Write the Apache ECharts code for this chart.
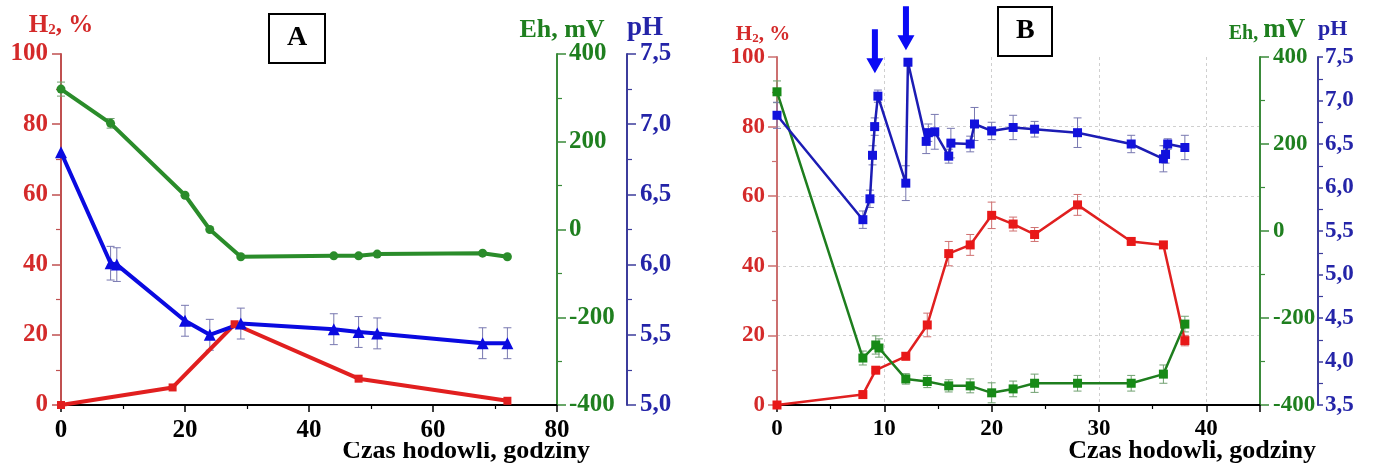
<!DOCTYPE html>
<html>
<head>
<meta charset="utf-8">
<script src="https://cdn.jsdelivr.net/npm/echarts@6/dist/echarts.min.js"></script>
<style>
html,body{margin:0;padding:0;background:#fff;}
#c{width:1375px;height:471px;}
</style>
</head>
<body>
<div id="c"></div>
<script>
// ---------------- DATA ----------------
// Panel A
const hoursA_H2 = [0, 18, 28, 48, 72];
const h2A = [0, 5, 23, 7.5, 1.2];
const hoursA_Eh = [0, 8, 20, 24, 29, 44, 48, 51, 68, 72];
const ehA = [320, 242, 78, 0, -62, -60, -60, -56, -54, -62];
const ehErrA = [16, 11, 0, 0, 0, 0, 0, 0, 0, 0];
const hoursA_pH = [0, 8, 9, 20, 24, 29, 44, 48, 51, 68, 72];
const phA = [6.8, 6.01, 6.0, 5.6, 5.5, 5.58, 5.54, 5.52, 5.51, 5.44, 5.44];
const phErrA = [0, 0.12, 0.12, 0.11, 0.11, 0.11, 0.11, 0.11, 0.11, 0.11, 0.11];

// Panel B
const hoursB_H2 = [0, 8, 9.2, 12, 14, 16, 18, 20, 22, 24, 28, 33, 36, 38];
const h2B = [0, 3, 10, 14, 23, 43.5, 46, 54.5, 52, 49, 57.5, 47, 46, 18.5];
const h2ErrB = [0, 0.5, 0.5, 1, 3.4, 3.5, 3, 3.8, 2, 2, 3, 1, 1, 1.5];
const hoursB_Eh = [0, 8, 9.2, 9.5, 12, 14, 16, 18, 20, 22, 24, 28, 33, 36, 38];
const ehB = [320, -292, -262, -269, -340, -346, -356, -356, -372, -363, -350, -350, -350, -329, -214];
const ehErrB = [25, 16, 21, 21, 12, 14, 14, 16, 23, 18, 21, 18, 18, 21, 18];
const hoursB_pH = [0, 8, 8.66, 8.9, 9.1, 9.4, 12, 12.2, 13.9, 14.1, 14.7, 16, 16.2, 18, 18.4, 20, 22, 24, 28, 33, 36, 36.2, 36.4, 38];
const phB = [6.83, 5.63, 5.87, 6.37, 6.7, 7.05, 6.05, 7.44, 6.53, 6.63, 6.64, 6.36, 6.51, 6.5, 6.73, 6.65, 6.69, 6.67, 6.63, 6.5, 6.33, 6.38, 6.5, 6.46];
const phErrB = [0.15, 0.1, 0.1, 0.11, 0.1, 0.07, 0.2, 0.04, 0.14, 0.1, 0.2, 0.08, 0.17, 0.09, 0.19, 0.1, 0.14, 0.09, 0.17, 0.1, 0.15, 0.1, 0.06, 0.14];
// arrows point at these pH peaks
const arrowPeaksB = [[9.4, 7.05], [12.2, 7.44]];

// Tick labels
const phTickValsA = [5.0, 5.5, 6.0, 6.5, 7.0, 7.5];
const phTickLabelsA = ['5,0', '5,5', '6,0', '6,5', '7,0', '7,5'];
const phTickValsB = [3.5, 4.0, 4.5, 5.0, 5.5, 6.0, 6.5, 7.0, 7.5];
const phTickLabelsB = ['3,5', '4,0', '4,5', '5,0', '5,5', '6,0', '6,5', '7,0', '7,5'];

// ---------------- STYLE ----------------
const FF = '"Liberation Serif", "Times New Roman", serif';
const RED = '#d42a2a', GREEN = '#1f7f1f', BLUE = '#2424a8';

function lookup(vals, labels) {
  return function (v) {
    for (let i = 0; i < vals.length; i++) if (Math.abs(vals[i] - v) < 1e-6) return labels[i];
    return '';
  };
}
function pairs(xs, ys) { return xs.map((x, i) => [x, ys[i]]); }

function errSeries(xs, ys, errs, xi, yi, color) {
  const data = [];
  xs.forEach((x, i) => { if (errs[i] > 0) data.push([x, ys[i] - errs[i], ys[i] + errs[i]]); });
  return {
    type: 'custom', xAxisIndex: xi, yAxisIndex: yi, silent: true, z: 1,
    data: data, encode: { x: 0, y: [1, 2] },
    renderItem: function (params, api) {
      const lo = api.coord([api.value(0), api.value(1)]);
      const hi = api.coord([api.value(0), api.value(2)]);
      const w = 4;
      const st = { stroke: color, lineWidth: 1 };
      return {
        type: 'group', children: [
          { type: 'line', shape: { x1: lo[0], y1: lo[1], x2: hi[0], y2: hi[1] }, style: st },
          { type: 'line', shape: { x1: lo[0] - w, y1: lo[1], x2: lo[0] + w, y2: lo[1] }, style: st },
          { type: 'line', shape: { x1: hi[0] - w, y1: hi[1], x2: hi[0] + w, y2: hi[1] }, style: st }
        ]
      };
    }
  };
}

function yAx(o) {
  const fs = o.fs;
  return {
    type: 'value', gridIndex: o.grid, position: o.pos, offset: o.offset || 0,
    min: o.min, max: o.max, interval: o.interval,
    axisLine: { show: true, lineStyle: { color: o.lineColor, width: 2 } },
    axisTick: { show: true, length: o.tickLen || 9, lineStyle: { color: o.lineColor, width: 1.5 } },
    minorTick: { show: true, splitNumber: 2, length: 5, lineStyle: { color: o.lineColor, width: 1.2 } },
    axisLabel: { color: o.labelColor, fontSize: fs, fontWeight: 'bold', fontFamily: FF, margin: o.margin || 13, formatter: o.formatter },
    splitLine: o.split ? { show: true, showMaxLine: false, lineStyle: { color: '#cfcfcf', type: [3, 3], width: 1 } } : { show: false },
    name: o.name, nameLocation: 'end', nameGap: o.nameGap, nameMoveOverlap: false,
    nameTextStyle: { align: o.nameAlign || 'center', verticalAlign: 'bottom', padding: o.namePad || 0, rich: o.rich }
  };
}

function xName(gap) {
  return {
    name: 'Czas hodowli, godziny', nameLocation: 'end', nameGap: gap, nameMoveOverlap: false,
    nameTextStyle: { color: '#000', fontSize: 26, fontWeight: 'bold', fontFamily: FF, align: 'right', verticalAlign: 'top', padding: [33, 0, 0, 0] }
  };
}

const arrowPath = 'path://M5.5,0 L11.5,0 L11.5,29 L17,29 L8.5,44 L0,29 L5.5,29 Z';

const option = {
  backgroundColor: '#fff',
  animation: false,
  title: [
    { text: 'A', left: 269, top: 14, borderColor: '#000', borderWidth: 2, padding: [10, 18, 11, 18],
      textStyle: { fontSize: 28, fontWeight: 'bold', fontFamily: FF, color: '#000' } },
    { text: 'B', left: 998, top: 7, borderColor: '#000', borderWidth: 2, padding: [10, 18, 11, 18],
      textStyle: { fontSize: 28, fontWeight: 'bold', fontFamily: FF, color: '#000' } }
  ],
  grid: [
    { left: 61, right: 818, top: 54, bottom: 66, outerBoundsMode: 'none', containLabel: false },
    { left: 777, right: 115, top: 57, bottom: 66, outerBoundsMode: 'none', containLabel: false }
  ],
  xAxis: [
    Object.assign({
      type: 'value', gridIndex: 0, min: 0, max: 80, interval: 20,
      axisLine: { lineStyle: { color: '#000', width: 2 } },
      axisTick: { length: 7, lineStyle: { color: '#000', width: 1.5 } },
      minorTick: { show: true, splitNumber: 2, length: 4, lineStyle: { color: '#000', width: 1.2 } },
      axisLabel: { color: '#000', fontSize: 25, fontWeight: 'bold', fontFamily: FF, margin: 13 },
      splitLine: { show: false }
    }, xName(33)),
    Object.assign({
      type: 'value', gridIndex: 1, min: 0, max: 45, interval: 10,
      axisLine: { lineStyle: { color: '#000', width: 2 } },
      axisTick: { length: 7, lineStyle: { color: '#000', width: 1.5 } },
      minorTick: { show: true, splitNumber: 2, length: 4, lineStyle: { color: '#000', width: 1.2 } },
      axisLabel: { color: '#000', fontSize: 23, fontWeight: 'bold', fontFamily: FF, margin: 13, showMaxLabel: false },
      splitLine: { show: true, showMinLine: false, showMaxLine: false, lineStyle: { color: '#cfcfcf', type: [3, 3], width: 1 } }
    }, xName(56))
  ],
  yAxis: [
    yAx({ grid: 0, pos: 'left', min: 0, max: 100, interval: 20, lineColor: '#c05050', labelColor: RED, fs: 25, margin: 13,
      name: '{t|H}{s|2}{t|, %}', nameGap: 16,
      rich: { t: { fontSize: 25, fontWeight: 'bold', fontFamily: FF, color: RED, lineHeight: 28, verticalAlign: 'bottom' },
              s: { fontSize: 15, fontWeight: 'bold', fontFamily: FF, color: RED, lineHeight: 6, verticalAlign: 'bottom' } } }),
    yAx({ grid: 0, pos: 'right', min: -400, max: 400, interval: 200, lineColor: '#3a8a3a', labelColor: GREEN, fs: 25, margin: 12,
      name: '{t|Eh, mV}', nameGap: 11, namePad: [0, 0, 0, 10],
      rich: { t: { fontSize: 26, fontWeight: 'bold', fontFamily: FF, color: GREEN, lineHeight: 26, verticalAlign: 'bottom' } } }),
    yAx({ grid: 0, pos: 'right', offset: 70, min: 5, max: 7.5, interval: 0.5, lineColor: '#3c3c9c', labelColor: BLUE, fs: 25, margin: 13,
      formatter: lookup(phTickValsA, phTickLabelsA),
      name: '{t|pH}', nameGap: 12, nameAlign: 'left',
      rich: { t: { fontSize: 27, fontWeight: 'bold', fontFamily: FF, color: BLUE, lineHeight: 27, verticalAlign: 'bottom' } } }),
    yAx({ grid: 1, pos: 'left', min: 0, max: 100, interval: 20, lineColor: '#cc7070', labelColor: RED, fs: 23, margin: 12, split: true,
      name: '{t|H}{s|2}{t|, %}', nameGap: 12, namePad: [0, 28, 0, 0],
      rich: { t: { fontSize: 21, fontWeight: 'bold', fontFamily: FF, color: RED, lineHeight: 23, verticalAlign: 'bottom' },
              s: { fontSize: 13, fontWeight: 'bold', fontFamily: FF, color: RED, lineHeight: 5, verticalAlign: 'bottom' } } }),
    yAx({ grid: 1, pos: 'right', min: -400, max: 400, interval: 200, lineColor: '#3a8a3a', labelColor: GREEN, fs: 23, margin: 13,
      name: '{a|Eh, }{b|mV}', nameGap: 13, namePad: [0, 0, 0, 14],
      rich: { a: { fontSize: 20, fontWeight: 'bold', fontFamily: FF, color: GREEN, lineHeight: 20, verticalAlign: 'bottom' },
              b: { fontSize: 27, fontWeight: 'bold', fontFamily: FF, color: GREEN, lineHeight: 27, verticalAlign: 'bottom' } } }),
    yAx({ grid: 1, pos: 'right', offset: 58, min: 3.5, max: 7.5, interval: 0.5, lineColor: '#3c3c9c', labelColor: BLUE, fs: 23, margin: 7, tickLen: 5,
      formatter: lookup(phTickValsB, phTickLabelsB),
      name: '{t|pH}', nameGap: 17, nameAlign: 'left',
      rich: { t: { fontSize: 22, fontWeight: 'bold', fontFamily: FF, color: BLUE, lineHeight: 22, verticalAlign: 'bottom' } } })
  ],
  graphic: [
    // the reference crops the bottom of panel A's x tick labels
    { type: 'rect', z: 100, shape: { x: 0, y: 437, width: 690, height: 5 }, style: { fill: '#fff' } }
  ],
  series: [
    // ---- Panel A ----
    errSeries(hoursA_Eh, ehA, ehErrA, 0, 1, '#70a070'),
    errSeries(hoursA_pH, phA, phErrA, 0, 2, '#7878b0'),
    { type: 'line', xAxisIndex: 0, yAxisIndex: 0, data: pairs(hoursA_H2, h2A), symbol: 'rect', symbolSize: 8,
      lineStyle: { color: '#e11f1f', width: 4 }, itemStyle: { color: '#e11f1f' } },
    { type: 'line', xAxisIndex: 0, yAxisIndex: 1, data: pairs(hoursA_Eh, ehA), symbol: 'circle', symbolSize: 9,
      lineStyle: { color: '#2a8c2a', width: 4 }, itemStyle: { color: '#2a8c2a' } },
    { type: 'line', xAxisIndex: 0, yAxisIndex: 2, data: pairs(hoursA_pH, phA), symbol: 'triangle', symbolSize: 12,
      lineStyle: { color: '#0a0ae0', width: 4 }, itemStyle: { color: '#0a0ae0' } },
    // ---- Panel B ----
    errSeries(hoursB_H2, h2B, h2ErrB, 1, 3, '#d07070'),
    errSeries(hoursB_Eh, ehB, ehErrB, 1, 4, '#70a070'),
    errSeries(hoursB_pH, phB, phErrB, 1, 5, '#7878b0'),
    { type: 'line', xAxisIndex: 1, yAxisIndex: 3, data: pairs(hoursB_H2, h2B), symbol: 'rect', symbolSize: 9,
      lineStyle: { color: '#e02020', width: 2.5 }, itemStyle: { color: '#e81818' } },
    { type: 'line', xAxisIndex: 1, yAxisIndex: 4, data: pairs(hoursB_Eh, ehB), symbol: 'rect', symbolSize: 9,
      lineStyle: { color: '#1e7e1e', width: 2.5 }, itemStyle: { color: '#178a17' } },
    { type: 'line', xAxisIndex: 1, yAxisIndex: 5, data: pairs(hoursB_pH, phB), symbol: 'rect', symbolSize: 9,
      lineStyle: { color: '#1c1cb4', width: 2.5 }, itemStyle: { color: '#1212dc' },
      markPoint: {
        silent: true, symbol: arrowPath, symbolSize: [17, 44], label: { show: false },
        itemStyle: { color: '#0a0af5' },
        data: [
          { coord: arrowPeaksB[0], symbolOffset: [-3, -45] },
          { coord: arrowPeaksB[1], symbolOffset: [-2, -34] }
        ]
      } }
  ]
};

const chart = echarts.init(document.getElementById('c'));
chart.setOption(option);
</script>
</body>
</html>
